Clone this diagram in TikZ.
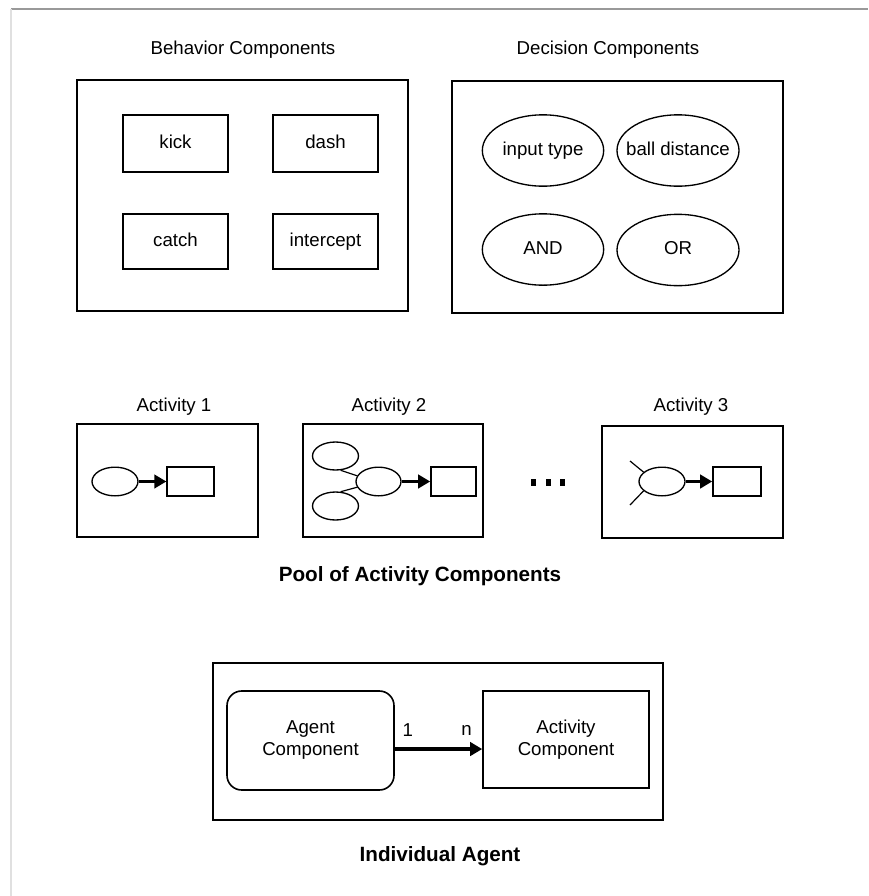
\documentclass[tikz,border=0pt]{standalone}
\usepackage{fontspec}
\setmainfont{Liberation Sans}
\usetikzlibrary{arrows.meta,shapes.geometric}
\begin{document}
\begin{tikzpicture}[x=0.75pt,y=-0.75pt,
  every node/.style={font=\fontsize{14pt}{16.5pt}\selectfont},
  frame/.style={draw, line width=1.3pt, inner sep=0pt},
  compbox/.style={draw, line width=1.2pt, inner sep=0pt, align=center},
  smallbox/.style={compbox, minimum width=78.75pt, text height=10pt, text depth=3pt},
  decision/.style={draw, ellipse, line width=1pt, inner sep=0pt,
                   text height=10pt, text depth=3pt,
                   minimum width=91pt, minimum height=53.5pt},
  mini/.style={draw, ellipse, line width=1pt, inner sep=0pt,
               minimum width=34.5pt, minimum height=21.5pt},
  minibox/.style={draw, line width=1.2pt, inner sep=0pt,
                  minimum width=35pt, minimum height=21.75pt},
  heading/.style={font=\fontsize{15.5pt}{18pt}\selectfont\bfseries},
  flow/.style={line width=2.5pt, -{Triangle[length=9pt,width=10pt]}},
  wire/.style={line width=0.9pt}
]
% page and window edges
\useasboundingbox (0,0) rectangle (868,896);
\fill[white] (0,0) rectangle (868,896);
\draw[black!40, line width=0.9pt] (11,9) -- (868,9);
\draw[black!12, line width=0.9pt] (11,9) -- (11,896);

% behaviour components
\node (behtitle) at (243,50) {Behavior Components};
\node[frame, minimum width=248.25pt, minimum height=173.25pt] (beh) at (242.5,195.5) {};
\node[smallbox, minimum height=42.75pt] (kick) at (175.5,143.5) {kick};
\node[smallbox, minimum height=42.75pt] (dash) at (325.5,143.5) {dash};
\node[smallbox, minimum height=41.25pt] (catch) at (175.5,241.5) {catch};
\node[smallbox, minimum height=41.25pt] (intercept) at (325.5,241.5) {intercept};

% decision components
\node (dectitle) at (608,50) {Decision Components};
\node[frame, minimum width=248.25pt, minimum height=174pt] (dec) at (617.5,197) {};
\node[decision] (inputtype) at (543,150.5) {input type};
\node[decision, inner xsep=-7pt, minimum width=91.5pt] (balldist) at (678,150.5) {ball distance};
\node[decision] (andop) at (543,249.5) {AND};
\node[decision, minimum width=91.5pt] (orop) at (678,250) {OR};

% activity 1
\node (a1title) at (174,407) {Activity 1};
\node[frame, minimum width=135.75pt, minimum height=84.75pt] (act1) at (167.5,480.5) {};
\node[mini] (a1e) at (115,481.5) {};
\node[minibox] (a1r) at (190.5,481.5) {};
\draw[flow] (a1e) -- (a1r);

% activity 2
\node (a2title) at (389,407) {Activity 2};
\node[frame, minimum width=135pt, minimum height=84.75pt] (act2) at (393,480.5) {};
\node[mini, minimum height=21pt] (a2top) at (335.5,456) {};
\node[mini, minimum width=33.75pt] (a2mid) at (378.5,481.5) {};
\node[mini, minimum height=21pt] (a2bot) at (335.5,506) {};
\node[minibox, minimum width=33.75pt] (a2r) at (453.5,481.5) {};
\draw[wire] (a2top.290) -- (a2mid.165);
\draw[wire] (a2bot.70) -- (a2mid.195);
\draw[flow] (a2mid) -- (a2r);

% more activities
\foreach \x in {533,548,562}
  \fill (\x-2.5,478.5) rectangle ++(5,7);

% activity 3
\node (a3title) at (691,407) {Activity 3};
\node[frame, minimum width=135.75pt, minimum height=84pt] (act3) at (692.5,482) {};
\node[mini] (a3e) at (662,481.5) {};
\node[minibox, minimum width=36pt] (a3r) at (737,481.5) {};
\coordinate (a3in1) at (630,461);
\coordinate (a3in2) at (630,505);
\draw[wire] (a3in1) -- (a3e.153);
\draw[wire] (a3in2) -- (a3e.207);
\draw[flow] (a3e) -- (a3r);

\node[heading] (pool) at (420,576) {Pool of Activity Components};

% individual agent
\node[frame, minimum width=337.5pt, minimum height=117.75pt] (agentframe) at (438,741.5) {};
\node[compbox, rounded corners=11pt, minimum width=125.25pt, minimum height=74.25pt]
  (agent) at (310.5,740.5) {Agent\\Component};
\node[compbox, minimum width=124.5pt, minimum height=72.75pt]
  (activity) at (566,739.5) {Activity\\Component};
\draw[flow] ([yshift=-6.4pt]agent.east) -- ([yshift=-6.4pt]agent.east -| activity.west)
  node[pos=0.15, yshift=14pt] {1}
  node[pos=0.82, yshift=14pt] {n};

\node[heading] (agenttitle) at (440,856) {Individual Agent};
\end{tikzpicture}
\end{document}
